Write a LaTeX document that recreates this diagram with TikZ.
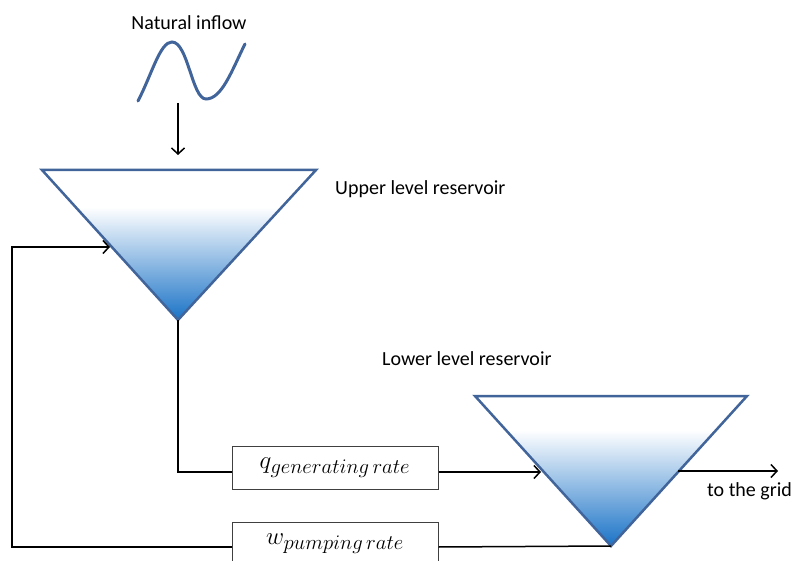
\documentclass[tikz,border=0pt]{standalone}
\usepackage{fontspec}
\setmainfont{Carlito}
\usetikzlibrary{arrows.meta}
\definecolor{edgeblue}{HTML}{41659A}
\definecolor{deepblue}{HTML}{1670C6}
\definecolor{midblue}{HTML}{8FBDE6}
\tikzset{
  lbl/.style={font=\fontsize{20}{24}\selectfont, inner sep=0pt},
  conn/.style={line width=1.5pt, black},
  arr/.style={conn, -{Straight Barb[length=6pt,width=13pt,line width=1.5pt]}},
  ratebox/.style={draw=black!75, line width=1pt, fill=white, minimum width=206pt, minimum height=43pt, inner sep=0pt},
  resedge/.style={draw=edgeblue, line width=2.5pt, line join=miter},
  ratefont/.style={font=\fontsize{30}{32}\selectfont},
}
\begin{document}
\begin{tikzpicture}[x=1pt,y=-1pt]
\useasboundingbox (0,0) rectangle (795,561);
\clip (0,0) rectangle (795,561);

% upper reservoir
\coordinate (uL) at (42,170);
\coordinate (uR) at (316,170);
\coordinate (uT) at (178,320);
\begin{scope}
  \clip (uL) -- (uR) -- (uT) -- cycle;
  \fill[white] (40,168) rectangle (318,208);
  \shade[top color=white, middle color=midblue, bottom color=deepblue] (40,207) rectangle (318,322);
\end{scope}
\draw[resedge] (uL) -- (uR) -- (uT) -- cycle;

% lower reservoir
\coordinate (lL) at (475,396);
\coordinate (lR) at (747,396);
\coordinate (lT) at (611,546);
\begin{scope}
  \clip (lL) -- (lR) -- (lT) -- cycle;
  \fill[white] (470,394) rectangle (750,431);
  \shade[top color=white, middle color=midblue, bottom color=deepblue] (470,430) rectangle (750,548);
\end{scope}
\draw[resedge] (lL) -- (lR) -- (lT) -- cycle;

% texts
\node[lbl] (nat) at (189,23) {Natural inflow};
\node[lbl, anchor=west] (up) at (335,189) {Upper level reservoir};
\node[lbl, anchor=west] (low) at (382,359) {Lower level reservoir};
\node[lbl, anchor=west] (grid) at (707,491) {to the grid};

% inflow wave
\draw[edgeblue, line width=3pt, line cap=round]
  (138,101) .. controls (152,74) and (160,42) .. (172,42)
            .. controls (188,42) and (192,99) .. (206,99)
            .. controls (222,99) and (232,70) .. (245,44);
\coordinate (inA) at (178,103);
\coordinate (inB) at (178,155);
\draw[arr] (inA) -- (inB);

% rate boxes
\node[ratebox, ratefont] (q) at (335,467.5) {$q_{generating\,rate}$};
\node[ratebox, ratefont] (w) at (335,543.5) {$w_{pumping\,rate}$};

% generating path
\coordinate (qin) at (q.west |- 0,472);
\draw[conn] (uT) |- (qin);
\coordinate (qout) at (q.east |- 0,472);
\coordinate (lin) at (541,472);
\draw[arr] (qout) -- (lin);

% to grid
\coordinate (gA) at (678,471);
\coordinate (gB) at (778,471);
\draw[arr] (gA) -- (gB);

% pumping path
\coordinate (wout) at (w.east |- 0,547);
\draw[conn] (lT) -- (wout);
\coordinate (win) at (w.west |- 0,547);
\coordinate (uin) at (110,247);
\draw[arr] (win) -| (12,247) -- (uin);
\end{tikzpicture}
\end{document}
